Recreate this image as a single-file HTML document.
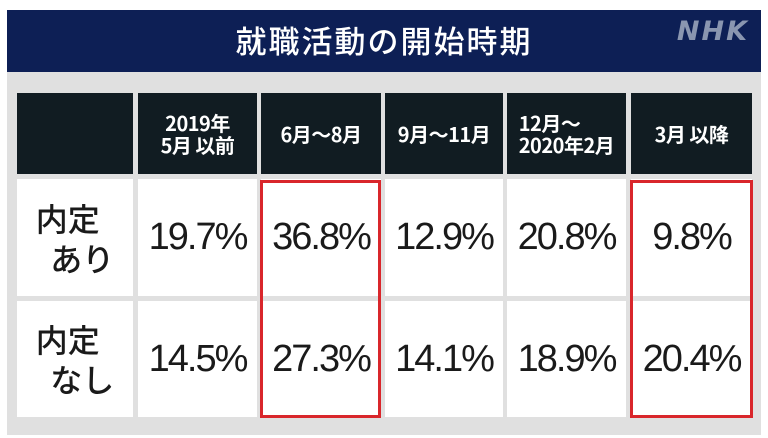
<!DOCTYPE html>
<html><head><meta charset="utf-8"><style>
body{margin:0;width:768px;height:438px;background:#fff;position:relative;overflow:hidden;font-family:"Liberation Sans","Noto Sans CJK JP",sans-serif}
.ban{position:absolute;left:7px;top:10px;width:754px;height:62px;background:#0d1f55}
.title{position:absolute;left:0;width:754px;top:11px;text-align:center;color:#fff;font-size:31px;font-weight:500;font-family:"Noto Sans CJK JP",sans-serif;line-height:38px;letter-spacing:2px}
.nhk{position:absolute;right:12px;top:6px;color:#8a96b0;font-weight:900;font-style:italic;font-size:27px;letter-spacing:2px;font-family:"DejaVu Sans",sans-serif}
.pan{position:absolute;left:7px;top:72px;width:754px;height:363px;background:#e0e0e0}
.c{position:absolute;display:flex;align-items:center;justify-content:center;text-align:center}
.h{background:#111c22;color:#fff;font-size:20px;font-weight:bold;line-height:22px;top:93px;height:81px;font-family:"Noto Sans CJK JP",sans-serif;letter-spacing:-0.5px}
.d{background:#fff;color:#1a1a1a;font-size:38px;font-family:"Liberation Sans","Noto Sans CJK JP",sans-serif;letter-spacing:-2px}
.r1{top:179px;height:117px}.r2{top:301px;height:116px}
.lab{font-family:"Noto Sans CJK JP",sans-serif;font-weight:500;font-size:32px;line-height:40px;text-align:left;letter-spacing:0}
.red{position:absolute;border:3px solid #d9262b;box-sizing:border-box}
</style></head><body>
<div class="ban"><div class="title">就職活動の開始時期</div><div class="nhk">NHK</div></div>
<div class="pan"></div>
<div class="c h" style="left:17px;width:116px"></div>
<div class="c h" style="left:138px;width:119px">2019年<br>5月 以前</div>
<div class="c h" style="left:261px;width:120px">6月～8月</div>
<div class="c h" style="left:385px;width:118px">9月～11月</div>
<div class="c h" style="left:507px;width:119px;text-align:left">12月～<br>2020年2月</div>
<div class="c h" style="left:631px;width:121px">3月 以降</div>

<div class="c d r1" style="left:17px;width:116px"><div class="lab">内定<br>&nbsp;&nbsp;あり</div></div>
<div class="c d r1" style="left:138px;width:119px">19.7%</div>
<div class="c d r1" style="left:261px;width:120px">36.8%</div>
<div class="c d r1" style="left:385px;width:118px">12.9%</div>
<div class="c d r1" style="left:507px;width:119px">20.8%</div>
<div class="c d r1" style="left:631px;width:121px">9.8%</div>

<div class="c d r2" style="left:17px;width:116px"><div class="lab">内定<br>&nbsp;&nbsp;なし</div></div>
<div class="c d r2" style="left:138px;width:119px">14.5%</div>
<div class="c d r2" style="left:261px;width:120px">27.3%</div>
<div class="c d r2" style="left:385px;width:118px">14.1%</div>
<div class="c d r2" style="left:507px;width:119px">18.9%</div>
<div class="c d r2" style="left:631px;width:121px">20.4%</div>

<div class="red" style="left:260px;top:180px;width:121px;height:238px"></div>
<div class="red" style="left:630px;top:180px;width:123px;height:238px"></div>
</body></html>
